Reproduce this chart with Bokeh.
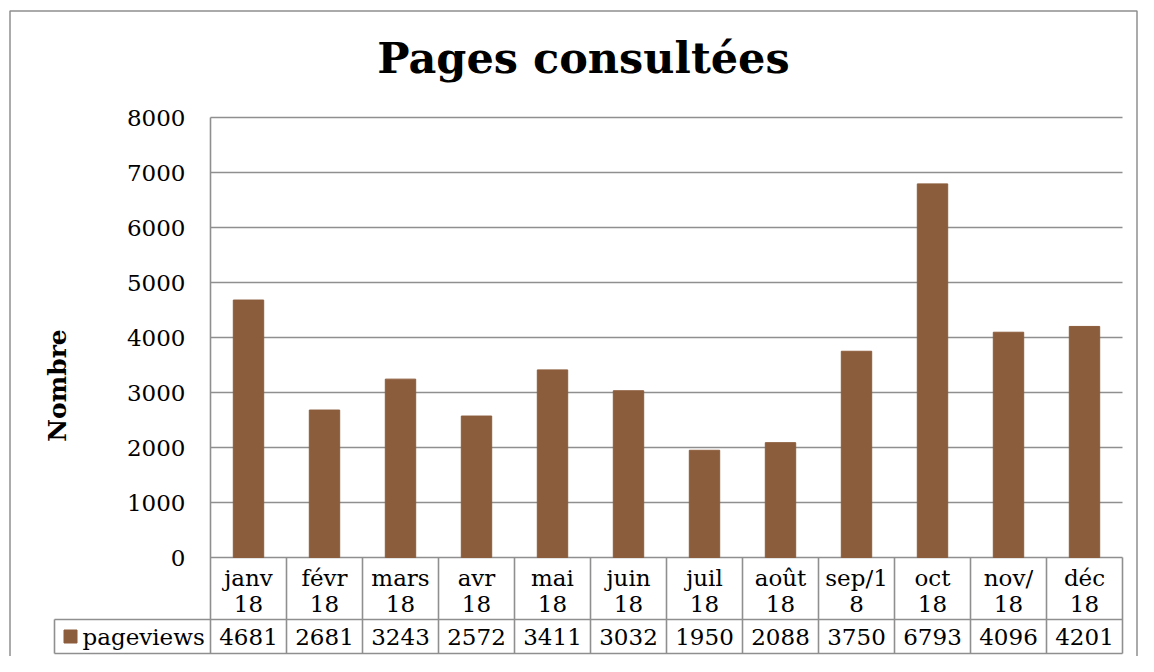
from bokeh.plotting import figure
from bokeh.models import Range1d, LinearAxis, FixedTicker
from bokeh.core.properties import value
from bokeh.embed import file_html
from bokeh.resources import INLINE
import numpy as np

# ---------------- data ----------------
title_text = "Pages consultées"
y_axis_title = "Nombre"
series_name = "pageviews"
months = ["janv\n18", "févr\n18", "mars\n18", "avr\n18", "mai\n18", "juin\n18",
          "juil\n18", "août\n18", "sep/1\n8", "oct\n18", "nov/\n18", "déc\n18"]
pageviews = [4681, 2681, 3243, 2572, 3411, 3032, 1950, 2088, 3750, 6793, 4096, 4201]
y_ticks = [0, 1000, 2000, 3000, 4000, 5000, 6000, 7000, 8000]

# ---------------- layout (figure pixels) ----------------
W, H = 1138, 656
PL, PR = 210, 1122          # plot area left/right
PT, PB = 117, 557           # plot area top/bottom
HEADER_BOTTOM = 619
TABLE_BOTTOM = 653
LEGEND_LEFT = 54
n = len(months)
YMAX = y_ticks[-1]
ux = (PR - PL) / n
uy = (PB - PT) / YMAX

def X(px):
    return (px - PL) / ux

def Y(py):
    return (PB - py) / uy

FONT = value("DejaVu Serif")
GRID = "#8f8f8f"
BAR = "#8c5d3c"

p = figure(width=W, height=H, x_range=Range1d(X(0), X(W)), y_range=Range1d(Y(H), Y(0)),
           output_backend="svg", toolbar_location=None, title=None,
           x_axis_location=None, y_axis_location=None, min_border=0,
           outline_line_color=None, background_fill_color="white",
           border_fill_color="white")
p.grid.visible = False

# outer chart border (left, top, right)
p.line(x=[X(9.5), X(9.5), X(1136.5), X(1136.5)],
       y=[Y(H + 10), Y(10.5), Y(10.5), Y(H + 10)],
       line_color=GRID, line_width=1.5)

# horizontal gridlines
p.segment(x0=0, x1=n, y0=y_ticks, y1=y_ticks, line_color=GRID, line_width=1.6)

# bars
xc = np.arange(n) + 0.5
p.vbar(x=xc, top=pageviews, bottom=0, width=0.4, fill_color=BAR, line_color=BAR)

# data table lines
p.segment(x0=X(LEGEND_LEFT), x1=n, y0=[Y(HEADER_BOTTOM), Y(TABLE_BOTTOM)],
          y1=[Y(HEADER_BOTTOM), Y(TABLE_BOTTOM)], line_color=GRID, line_width=1.6)
p.segment(x0=list(range(1, n + 1)), x1=list(range(1, n + 1)), y0=0, y1=Y(TABLE_BOTTOM),
          line_color=GRID, line_width=1.6)
p.segment(x0=X(LEGEND_LEFT), x1=X(LEGEND_LEFT), y0=Y(HEADER_BOTTOM), y1=Y(TABLE_BOTTOM),
          line_color=GRID, line_width=1.6)

# table texts
ROW2 = (HEADER_BOTTOM + TABLE_BOTTOM) / 2
p.text(x=xc, y=Y((PB + HEADER_BOTTOM) / 2 + 2), text=months, text_align="center",
       text_baseline="middle", text_line_height=1.0, text_font=FONT,
       text_font_size="23px", text_color="black")
p.text(x=xc, y=Y(ROW2), text=[str(v) for v in pageviews],
       text_align="center", text_baseline="middle", text_font=FONT,
       text_font_size="23px", text_color="black")
p.scatter(x=[X(70)], y=[Y(ROW2)], marker="square", size=13,
          fill_color=BAR, line_color=BAR)
p.text(x=[X(82)], y=[Y(ROW2)], text=[series_name],
       text_align="left", text_baseline="middle", text_font=FONT,
       text_font_size="23px", text_color="black")

# title
p.text(x=[X(583)], y=[Y(57)], text=[title_text], text_align="center",
       text_baseline="alphabetic", text_font=FONT, text_font_size="43px",
       text_font_style="bold", text_color="black")

# y axis at the plot area's left edge
yax = LinearAxis(fixed_location=0, bounds=(Y(TABLE_BOTTOM), YMAX),
                 ticker=FixedTicker(ticks=y_ticks),
                 major_tick_line_color=None, minor_tick_line_color=None,
                 major_tick_out=0, major_tick_in=0,
                 minor_tick_out=0, minor_tick_in=0,
                 axis_line_color=GRID, axis_line_width=1.6,
                 major_label_text_font="DejaVu Serif", major_label_text_font_size="23px",
                 major_label_text_color="black", major_label_standoff=25,
                 axis_label=y_axis_title, axis_label_text_font="DejaVu Serif",
                 axis_label_text_font_size="25px", axis_label_text_font_style="bold",
                 axis_label_text_color="black", axis_label_standoff=52)
p.add_layout(yax, "left")

open("out.html", "w").write(file_html(p, INLINE))
